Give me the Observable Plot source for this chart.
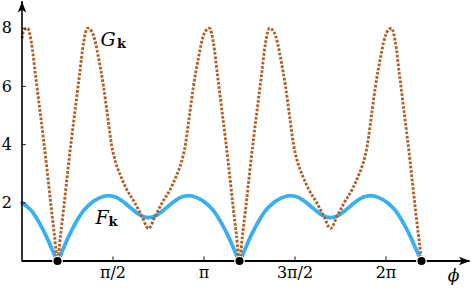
<!DOCTYPE html>
<html><head><meta charset="utf-8">
<script src="https://cdn.jsdelivr.net/npm/d3@7"></script>
<script src="https://cdn.jsdelivr.net/npm/@observablehq/plot@0.6"></script>
<style>body{margin:0;background:#fff} #chart svg text{font-family:'DejaVu Serif',serif}</style>
</head><body><div id="chart"></div>
<script>
// phi values are in units of π
const phiF = [0, 0.052, 0.096, 0.140, 0.168, 0.195, 0.222, 0.250, 0.294, 0.338, 0.382, 0.426, 0.470, 0.514, 0.558, 0.602, 0.651, 0.695, 0.739, 0.788, 0.832, 0.876, 0.920, 0.964, 1.008, 1.052, 1.096, 1.140, 1.168, 1.195,
  1.222, 1.250, 1.294, 1.338, 1.382, 1.426, 1.470, 1.514, 1.558, 1.602, 1.651, 1.695, 1.739, 1.788, 1.832, 1.876, 1.920, 1.964, 2.008, 2.052, 2.096, 2.140, 2.168, 2.195];
const valF = [2.0, 1.73, 1.3, 0.76, 0.36, 0, 0.36, 0.76, 1.3, 1.73, 2.0, 2.17, 2.25, 2.2, 2.03, 1.8, 1.57, 1.49, 1.57, 1.8, 2.03, 2.2, 2.25, 2.17, 2.0, 1.73, 1.3, 0.76, 0.36, 0,
  0.36, 0.76, 1.3, 1.73, 2.0, 2.17, 2.25, 2.2, 2.03, 1.8, 1.57, 1.49, 1.57, 1.8, 2.03, 2.2, 2.25, 2.17, 2.0, 1.73, 1.3, 0.76, 0.36, 0];

const phiG = [0, 0.008, 0.030, 0.052, 0.074, 0.096, 0.118, 0.140, 0.162, 0.179, 0.195,
  0.211, 0.228, 0.250, 0.272, 0.294, 0.316, 0.338, 0.360, 0.382, 0.404, 0.420, 0.448, 0.470, 0.492, 0.514, 0.541, 0.574, 0.618, 0.657, 0.695,
  0.733, 0.772, 0.816, 0.849, 0.876, 0.898, 0.920, 0.942, 0.970, 0.986, 1.008, 1.030, 1.052, 1.074, 1.096, 1.118, 1.140, 1.162, 1.179, 1.195,
  1.211, 1.228, 1.250, 1.272, 1.294, 1.316, 1.338, 1.360, 1.382, 1.404, 1.420, 1.448, 1.470, 1.492, 1.514, 1.541, 1.574, 1.618, 1.657, 1.695,
  1.733, 1.772, 1.816, 1.849, 1.876, 1.898, 1.920, 1.942, 1.970, 1.986, 2.008, 2.030, 2.052, 2.074, 2.096, 2.118, 2.140, 2.162, 2.179, 2.195];
const valG = [7.65, 7.9, 8.0, 7.5, 6.4, 5.3, 4.2, 3.0, 1.75, 0.85, 0,
  0.85, 1.75, 3.0, 4.2, 5.3, 6.4, 7.5, 8.0, 7.9, 7.5, 7.0, 6.0, 5.0, 4.0, 3.4, 2.94, 2.48, 2.02, 1.56, 1.12,
  1.56, 2.02, 2.48, 2.94, 3.4, 4.0, 5.0, 6.0, 7.0, 7.5, 7.9, 8.0, 7.5, 6.4, 5.3, 4.2, 3.0, 1.75, 0.85, 0,
  0.85, 1.75, 3.0, 4.2, 5.3, 6.4, 7.5, 8.0, 7.9, 7.5, 7.0, 6.0, 5.0, 4.0, 3.4, 2.94, 2.48, 2.02, 1.56, 1.12,
  1.56, 2.02, 2.48, 2.94, 3.4, 4.0, 5.0, 6.0, 7.0, 7.5, 7.9, 8.0, 7.5, 6.4, 5.3, 4.2, 3.0, 1.75, 0.85, 0];

const zeroPhi = [0.195, 1.195, 2.195];
const xTickValues = [0.5, 1, 1.5, 2];
const xTickLabels = ["π/2", "π", "3π/2", "2π"];
const yTickValues = [2, 4, 6, 8];
const xMax = 2.4615, yMax = 8.92;

const Fdata = phiF.map((p, i) => ({phi: p, v: valF[i]}));
const Gdata = phiG.map((p, i) => ({phi: p, v: valG[i]}));

const stealth = {draw(ctx) { ctx.moveTo(0, 0); ctx.lineTo(4.3, 11); ctx.lineTo(0, 8.3); ctx.lineTo(-4.3, 11); ctx.closePath(); }};

const serif = "DejaVu Serif";

const chart = Plot.plot({
  width: 471, height: 288,
  marginLeft: 21.5, marginRight: 1.5, marginTop: 1, marginBottom: 27.5,
  x: {domain: [0, xMax], axis: null, label: null},
  y: {domain: [0, yMax], axis: null, label: null},
  style: {fontFamily: serif, background: "#fff", overflow: "visible"},
  marks: [
    Plot.lineY(Fdata, {x: "phi", y: "v", stroke: "#38aff0", strokeWidth: 3.8, curve: "monotone-x"}),
    Plot.lineY(Gdata, {x: "phi", y: "v", stroke: "#ad6229", strokeWidth: 2.9, strokeDasharray: "2.7,1.6", strokeLinecap: "butt", strokeLinejoin: "miter", curve: "monotone-x"}),
    Plot.ruleY([0], {x1: 0, x2: xMax, stroke: "black", strokeWidth: 1.8}),
    Plot.ruleX([0], {y1: 0, y2: yMax, stroke: "black", strokeWidth: 1.6}),
    Plot.ruleX(xTickValues, {x: d => d, y1: 0, y2: 0.14, stroke: "black", strokeWidth: 0.9}),
    Plot.ruleY(yTickValues, {y: d => d, x1: 0, x2: 0.024, stroke: "black", strokeWidth: 0.9}),
    Plot.axisX(xTickValues, {label: null, tickSize: 0, tickPadding: 6, tickFormat: d => xTickLabels[xTickValues.indexOf(d)], fontSize: 16, fontFamily: serif}),
    Plot.axisY(yTickValues, {label: null, tickSize: 0, tickPadding: 10, fontSize: 16, fontFamily: serif}),
    Plot.dot(zeroPhi, {x: d => d, y: 0, r: 4.7, fill: "black", stroke: "white", strokeWidth: 1.3}),
    Plot.dot([xMax], {x: d => d, y: 0, symbol: stealth, rotate: 90, fill: "black", stroke: "none"}),
    Plot.dot([yMax], {x: 0, y: d => d, symbol: stealth, fill: "black", stroke: "none"}),
    Plot.text(["G"], {x: 0.431, y: 7.38, text: d => d, fontStyle: "italic", fontSize: 19, fontFamily: serif, textAnchor: "start", lineAnchor: "bottom"}),
    Plot.text(["k"], {x: 0.522, y: 7.32, text: d => d, fontWeight: "bold", fontSize: 13, fontFamily: serif, textAnchor: "start", lineAnchor: "bottom"}),
    Plot.text(["F"], {x: 0.404, y: 1.28, text: d => d, fontStyle: "italic", fontSize: 19, fontFamily: serif, textAnchor: "start", lineAnchor: "bottom"}),
    Plot.text(["k"], {x: 0.475, y: 1.22, text: d => d, fontWeight: "bold", fontSize: 13, fontFamily: serif, textAnchor: "start", lineAnchor: "bottom"}),
    Plot.text(["ϕ"], {x: 2.371, y: 0, dy: 15, text: d => d, fontStyle: "italic", fontSize: 17, fontFamily: serif, textAnchor: "middle", lineAnchor: "middle"})
  ]
});
document.getElementById("chart").append(chart);
</script>
</body></html>
